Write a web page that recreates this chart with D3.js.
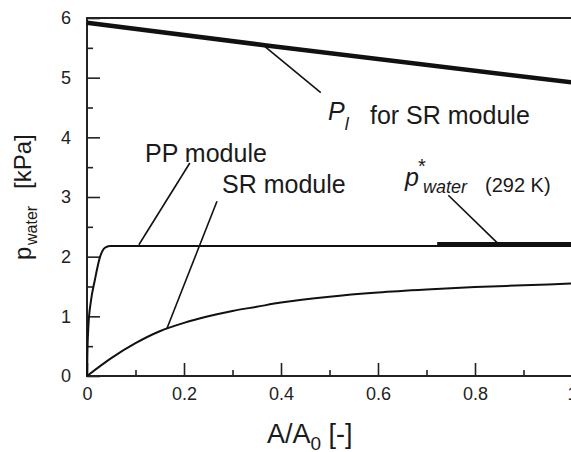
<!DOCTYPE html>
<html>
<head>
<meta charset="utf-8">
<script src="https://cdn.jsdelivr.net/npm/d3@7"></script>
<style>
  body { margin: 0; background: #fff; }
  svg { display: block; font-family: "Liberation Sans", Arial, sans-serif; }
</style>
</head>
<body>
<svg width="571" height="452"></svg>
<script>
// P_l for SR module (thick)
const plX = [0, 0.37, 1];
const plY = [5.92, 5.54, 4.92];

// PP module
const ppX = [0, 0.001, 0.003, 0.008, 0.016, 0.027, 0.037, 0.047, 0.1, 1];
const ppY = [0, 0.45, 0.85, 1.25, 1.6, 2.0, 2.15, 2.18, 2.18, 2.18];

// SR module
const srX = [0, 0.05, 0.1, 0.15, 0.2, 0.25, 0.3, 0.35, 0.4, 0.5, 0.6, 0.7, 0.8, 0.9, 1];
const srY = [0, 0.3, 0.55, 0.75, 0.89, 1.0, 1.09, 1.16, 1.23, 1.33, 1.4, 1.45, 1.49, 1.52, 1.55];

// p*_water (292 K), thick
const pStarX = [0.722, 1];
const pStarY = [2.21, 2.21];

// ticks
const xTicks = [0, 0.2, 0.4, 0.6, 0.8, 1];
const xMinor = [0.1, 0.3, 0.5, 0.7, 0.9];
const yTicks = [0, 1, 2, 3, 4, 5, 6];
const yMinor = [0.5, 1.5, 2.5, 3.5, 4.5, 5.5];

const margin = {top: 18, left: 87};
const width = 485, height = 358;
const ink = "#111";

const svg = d3.select("svg");
const g = svg.append("g").attr("transform", `translate(${margin.left},${margin.top})`);

const x = d3.scaleLinear().domain([0, 1]).range([0, width]);
const y = d3.scaleLinear().domain([0, 6]).range([height, 0]);

// frame
g.append("rect").attr("x", 0).attr("y", 0).attr("width", width).attr("height", height)
  .attr("fill", "none").attr("stroke", "#222").attr("stroke-width", 2);

// axes with inward ticks
g.append("g").attr("transform", `translate(0,${height})`)
  .call(d3.axisBottom(x).tickValues(xTicks).tickSize(-13).tickPadding(11)
    .tickFormat(d => d === 0 ? "0" : d === 1 ? "1" : d3.format(".1f")(d)));
g.append("g").attr("transform", `translate(0,${height})`)
  .call(d3.axisBottom(x).tickValues(xMinor).tickSize(-6).tickFormat(""));
const yAxis = g.append("g")
  .call(d3.axisLeft(y).tickValues(yTicks).tickSize(-13).tickPadding(30).tickFormat(d3.format("d")));
g.append("g")
  .call(d3.axisLeft(y).tickValues(yMinor).tickSize(-6).tickFormat(""));

g.selectAll(".domain").remove();
g.selectAll(".tick line").attr("stroke", "#222").attr("stroke-width", 1.6);
g.selectAll(".tick text").attr("fill", "#222").style("font-size", "18px")
  .style("font-family", "Liberation Sans, Arial, sans-serif");
yAxis.selectAll(".tick text").attr("text-anchor", "end").attr("dx", "14px");

// curves
const line = (xs, ys) => d3.line().x((d, i) => x(xs[i])).y((d, i) => y(ys[i]))(xs);
const curve = (xs, ys) => d3.line().curve(d3.curveMonotoneX)
  .x((d, i) => x(xs[i])).y((d, i) => y(ys[i]))(xs);

g.append("path").attr("d", line(plX, plY)).attr("fill", "none")
  .attr("stroke", ink).attr("stroke-width", 4.5);
g.append("path").attr("d", curve(ppX, ppY)).attr("fill", "none")
  .attr("stroke", ink).attr("stroke-width", 2);
g.append("path").attr("d", curve(srX, srY)).attr("fill", "none")
  .attr("stroke", ink).attr("stroke-width", 2);
g.append("path").attr("d", line(pStarX, pStarY)).attr("fill", "none")
  .attr("stroke", ink).attr("stroke-width", 4.5);

// leader lines (data coords)
const leaders = [
  [[0.367, 5.52], [0.482, 4.75]],
  [[0.212, 3.57], [0.107, 2.2]],
  [[0.268, 2.93], [0.165, 0.8]],
  [[0.745, 3.03], [0.846, 2.23]]
];
g.selectAll(".leader").data(leaders).enter().append("line")
  .attr("x1", d => x(d[0][0])).attr("y1", d => y(d[0][1]))
  .attr("x2", d => x(d[1][0])).attr("y2", d => y(d[1][1]))
  .attr("stroke", ink).attr("stroke-width", 1.6);

// annotations
const txt = (px, py, s, size) => svg.append("text").attr("x", px).attr("y", py)
  .attr("fill", "#1a1a1a").style("font-size", size + "px").text(s);

const pl = svg.append("text").attr("x", 328).attr("y", 120).attr("fill", "#1a1a1a")
  .style("font-size", "25px").style("font-style", "italic");
pl.append("tspan").text("P");
pl.append("tspan").attr("dy", 10).style("font-size", "18px").text("l");
txt(370, 124, "for SR module", 25);
txt(145, 162, "PP module", 25);
txt(222, 193, "SR module", 25);

const ps = svg.append("text").attr("x", 405).attr("y", 186).attr("fill", "#1a1a1a")
  .style("font-size", "25px").style("font-style", "italic");
ps.append("tspan").text("p");
ps.append("tspan").attr("dy", -13).attr("dx", -1).style("font-size", "20px").style("font-style", "normal").text("*");
ps.append("tspan").attr("x", 423).attr("y", 193).style("font-size", "18px").text("water");
txt(485, 192, "(292 K)", 20);

// axis titles
const xt = svg.append("text").attr("x", 267).attr("y", 443).attr("fill", "#1a1a1a").style("font-size", "27px");
xt.append("tspan").text("A/A");
xt.append("tspan").attr("dy", 7).style("font-size", "19px").text("0");
xt.append("tspan").attr("dy", -7).text(" [-]");

const yt = svg.append("text").attr("transform", "translate(31,260) rotate(-90)")
  .attr("fill", "#1a1a1a").style("font-size", "24px");
yt.append("tspan").text("p");
yt.append("tspan").attr("x", 15).attr("dy", 6).style("font-size", "16px").text("water");
yt.append("tspan").attr("x", 71).attr("dy", -6).text("[kPa]");
</script>
</body>
</html>
